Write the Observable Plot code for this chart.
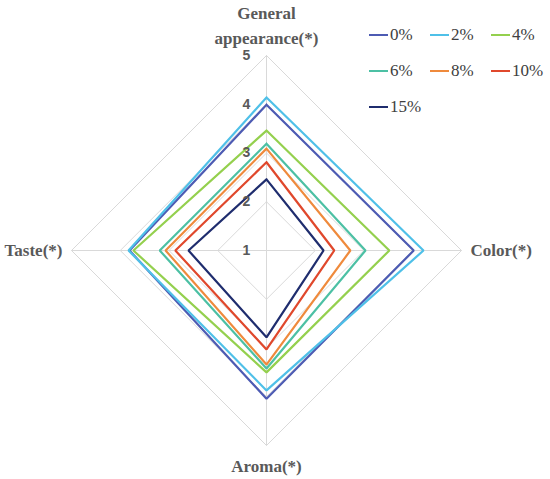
<!DOCTYPE html>
<html>
<head>
<meta charset="utf-8">
<script src="https://cdn.jsdelivr.net/npm/d3@7"></script>
<script src="https://cdn.jsdelivr.net/npm/@observablehq/plot@0.6"></script>
<style>
  html, body { margin: 0; padding: 0; background: #fff; }
  #wrap { position: relative; width: 550px; height: 479px; }
  #legend { position: absolute; left: 369px; top: 24px; display: grid;
    grid-template-columns: 61px 61px 61px; row-gap: 14px;
    font-family: "Liberation Serif", serif; font-size: 17px; color: #404040; }
  #legend .item { display: flex; align-items: center; height: 22px; white-space: nowrap; }
  #legend .sw { width: 19px; height: 2px; margin-right: 2px; }
</style>
</head>
<body>
<div id="wrap"><div id="legend"></div></div>
<script>
// ---- data ----
const axes = ["General\nappearance(*)", "Color(*)", "Aroma(*)", "Taste(*)"];
const series = ["0%", "2%", "4%", "6%", "8%", "10%", "15%"];
const colors = ["#4d5bb3", "#4fc0e8", "#94d04e", "#4cc0a4", "#ef8a3c", "#e0482c", "#1f2d6e"];
// values in order: General appearance, Color, Aroma, Taste
const v0  = [3.99, 4.02, 4.04, 3.81];
const v2  = [4.14, 4.22, 3.87, 3.83];
const v4  = [3.46, 3.52, 3.50, 3.73];
const v6  = [3.19, 3.03, 3.42, 3.19];
const v8  = [3.09, 2.72, 3.34, 3.07];
const v10 = [2.81, 2.39, 3.03, 2.87];
const v15 = [2.46, 2.17, 2.78, 2.60];
const ticks = [1, 2, 3, 4, 5];
const gridLevels = [2, 3, 4, 5];

const allValues = [v0, v2, v4, v6, v8, v10, v15];
const rMin = 1;
const angle = i => (i * Math.PI) / 2; // clockwise from top
const px = (v, i) => (v - rMin) * Math.sin(angle(i));
const py = (v, i) => (v - rMin) * Math.cos(angle(i));

const rows = [];
series.forEach((s, k) => {
  for (let j = 0; j <= axes.length; j++) {
    const i = j % axes.length;
    rows.push({series: s, x: px(allValues[k][i], i), y: py(allValues[k][i], i)});
  }
});
const grid = [];
gridLevels.forEach(l => {
  for (let j = 0; j <= axes.length; j++) {
    const i = j % axes.length;
    grid.push({level: l, x: px(l, i), y: py(l, i)});
  }
});
const spokes = axes.map((a, i) => ({x1: 0, y1: 0, x2: px(5, i), y2: py(5, i)}));
const labels = axes.map((a, i) => ({text: a, i, x: px(5, i), y: py(5, i)}));

const font = "Liberation Serif";
const plot = Plot.plot({
  width: 550,
  height: 479,
  margin: 0,
  x: {domain: [-4, 4], range: [71, 461], axis: null},
  y: {domain: [-4, 4], range: [445, 55], axis: null},
  color: {domain: series, range: colors},
  style: {background: "#fff"},
  marks: [
    Plot.line(grid, {x: "x", y: "y", z: "level", stroke: "#d9d9d9", strokeWidth: 1}),
    Plot.link(spokes, {x1: "x1", y1: "y1", x2: "x2", y2: "y2", stroke: "#d9d9d9", strokeWidth: 1}),
    Plot.line(rows, {x: "x", y: "y", z: "series", stroke: "series", strokeWidth: 2.2, strokeLinejoin: "miter"}),
    Plot.text(ticks, {x: 0, y: d => d - rMin, text: d => String(d), dx: -20,
      fontFamily: "Liberation Sans", fontSize: 14, fontWeight: "bold", fill: "#595959"}),
    Plot.text(labels.filter(d => d.i === 0), {x: "x", y: "y", text: "text", dy: -12, lineAnchor: "bottom",
      lineHeight: 1.45, fontFamily: font, fontSize: 17, fontWeight: "bold", fill: "#595959"}),
    Plot.text(labels.filter(d => d.i === 1), {x: "x", y: "y", text: "text", dx: 9, textAnchor: "start",
      fontFamily: font, fontSize: 17, fontWeight: "bold", fill: "#595959"}),
    Plot.text(labels.filter(d => d.i === 2), {x: "x", y: "y", text: "text", dy: 21,
      fontFamily: font, fontSize: 17, fontWeight: "bold", fill: "#595959"}),
    Plot.text(labels.filter(d => d.i === 3), {x: "x", y: "y", text: "text", dx: -9, textAnchor: "end",
      fontFamily: font, fontSize: 17, fontWeight: "bold", fill: "#595959"})
  ]
});
const wrap = document.getElementById("wrap");
wrap.insertBefore(plot, wrap.firstChild);

const legend = document.getElementById("legend");
series.forEach((s, k) => {
  const item = document.createElement("div");
  item.className = "item";
  const sw = document.createElement("span");
  sw.className = "sw";
  sw.style.background = colors[k];
  const t = document.createElement("span");
  t.textContent = s;
  item.appendChild(sw);
  item.appendChild(t);
  legend.appendChild(item);
});
</script>
</body>
</html>
